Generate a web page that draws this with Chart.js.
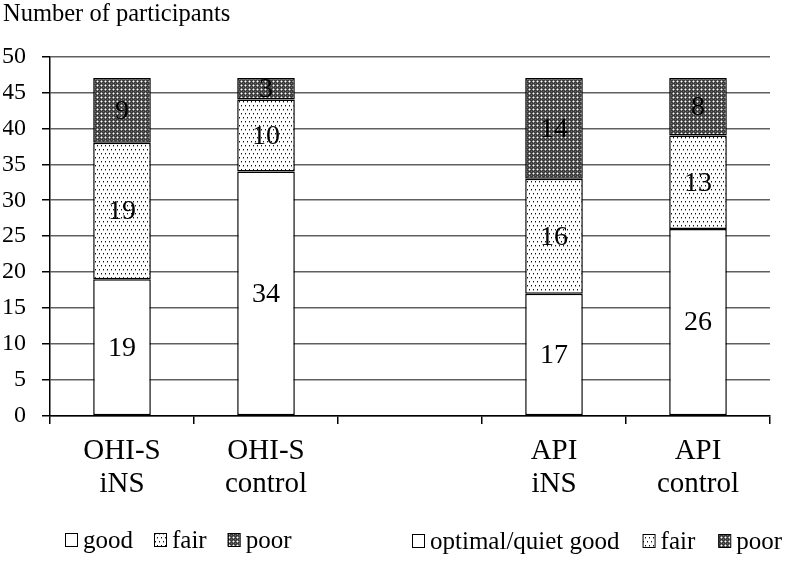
<!DOCTYPE html>
<html>
<head>
<meta charset="utf-8">
<script src="https://cdn.jsdelivr.net/npm/chart.js@4/dist/chart.umd.min.js"></script>
<style>
  html, body { margin: 0; padding: 0; background: #fff; }
  #wrap { width: 787px; height: 562px; }
</style>
</head>
<body>
<div id="wrap"><canvas id="chart" width="787" height="562"></canvas></div>
<script>
const categories = [["OHI-S", "iNS"], ["OHI-S", "control"], "", ["API", "iNS"], ["API", "control"]];
const goodValues = [19, 34, null, 17, 26];
const fairValues = [19, 10, null, 16, 13];
const poorValues = [9, 3, null, 14, 8];
const yTicks = [0, 5, 10, 15, 20, 25, 30, 35, 40, 45, 50];
const leftLegend = ["good", "fair", "poor"];
const rightLegend = ["optimal/quiet good", "fair", "poor"];

const SERIF = "'Liberation Serif', 'Times New Roman', serif";

function fairPattern() {
  const c = document.createElement("canvas");
  c.width = 4; c.height = 8;
  const g = c.getContext("2d");
  g.fillStyle = "#fff";
  g.fillRect(0, 0, 4, 8);
  g.fillStyle = "#111";
  g.fillRect(1, 1, 1, 1);
  g.fillRect(3, 5, 1, 1);
  g.fillStyle = "#999";
  g.fillRect(1, 2, 1, 1);
  g.fillRect(3, 6, 1, 1);
  return g.createPattern(c, "repeat");
}

function poorPattern() {
  const c = document.createElement("canvas");
  c.width = 4; c.height = 4;
  const g = c.getContext("2d");
  g.fillStyle = "#3c3c3c";
  g.fillRect(0, 0, 4, 4);
  g.fillStyle = "#9a9a9a";
  g.fillRect(0, 1, 1, 1);
  g.fillRect(2, 1, 1, 1);
  g.fillRect(1, 0, 1, 1);
  g.fillRect(1, 2, 1, 1);
  g.fillStyle = "#fff";
  g.fillRect(1, 1, 1, 1);
  g.fillStyle = "#6a6a6a";
  g.fillRect(3, 3, 1, 1);
  return g.createPattern(c, "repeat");
}

const fills = ["#ffffff", fairPattern(), poorPattern()];

// numbers centred inside each stacked segment
const segmentLabels = {
  id: "segmentLabels",
  afterDatasetsDraw(chart) {
    const ctx = chart.ctx;
    ctx.save();
    ctx.font = "28px " + SERIF;
    ctx.fillStyle = "#000";
    ctx.textAlign = "center";
    ctx.textBaseline = "middle";
    chart.data.datasets.forEach((ds, i) => {
      const meta = chart.getDatasetMeta(i);
      meta.data.forEach((bar, j) => {
        const v = ds.data[j];
        if (v == null) return;
        ctx.fillText(String(v), bar.x, (bar.y + bar.base) / 2 + 1);
      });
    });
    ctx.restore();
  }
};

// two legends under the axis, as in the original figure
const twoLegends = {
  id: "twoLegends",
  afterDraw(chart) {
    const ctx = chart.ctx;
    ctx.save();
    ctx.font = "25px " + SERIF;
    ctx.textBaseline = "middle";
    const drawRow = (labels, startX, y, gap) => {
      let x = startX;
      labels.forEach((label, i) => {
        ctx.fillStyle = fills[i];
        ctx.fillRect(x, y - 7, 12, 13);
        ctx.strokeStyle = "#000";
        ctx.lineWidth = 1;
        ctx.strokeRect(x + 0.5, y - 6.5, 12, 13);
        ctx.fillStyle = "#000";
        ctx.fillText(label, x + 18, y + 1);
        x += 18 + ctx.measureText(label).width + gap;
      });
    };
    drawRow(leftLegend, 65, 540, 21);
    drawRow(rightLegend, 412, 541, 23);
    ctx.restore();
  }
};

const datasetStyle = {
  borderColor: "#000",
  borderWidth: 1.5,
  borderSkipped: false,
  barPercentage: 0.4,
  categoryPercentage: 1
};

new Chart(document.getElementById("chart"), {
  type: "bar",
  data: {
    labels: categories,
    datasets: [
      { label: "good", data: goodValues, backgroundColor: fills[0], ...datasetStyle },
      { label: "fair", data: fairValues, backgroundColor: fills[1], ...datasetStyle },
      { label: "poor", data: poorValues, backgroundColor: fills[2], ...datasetStyle }
    ]
  },
  options: {
    responsive: false,
    animation: false,
    layout: { padding: { left: 3, right: 17, top: 0, bottom: 0 } },
    plugins: {
      legend: { display: false },
      tooltip: { enabled: false },
      title: {
        display: true,
        text: "Number of participants",
        align: "start",
        color: "#000",
        font: { family: SERIF, size: 24.5, weight: "normal", lineHeight: 1.2 },
        padding: { top: 0, bottom: 27 }
      }
    },
    scales: {
      x: {
        stacked: true,
        offset: true,
        afterFit(scale) { scale.height = 146; },
        border: { color: "#000", width: 1.5 },
        grid: {
          offset: true,
          drawOnChartArea: false,
          tickLength: 8,
          lineWidth: 1.5,
          color: "#000"
        },
        ticks: {
          color: "#000",
          padding: 11,
          maxRotation: 0,
          autoSkip: false,
          font: { family: SERIF, size: 29, lineHeight: 1.14 }
        }
      },
      y: {
        stacked: true,
        min: 0,
        max: 50,
        afterFit(scale) { scale.width = 47; },
        afterBuildTicks(scale) { scale.ticks = yTicks.map(v => ({ value: v })); },
        border: { color: "#000", width: 1.5 },
        grid: {
          color: "#606060",
          lineWidth: 1.5,
          tickLength: 8,
          tickColor: "#000"
        },
        ticks: {
          color: "#000",
          padding: 16,
          font: { family: SERIF, size: 24 }
        }
      }
    }
  },
  plugins: [segmentLabels, twoLegends]
});
</script>
</body>
</html>
